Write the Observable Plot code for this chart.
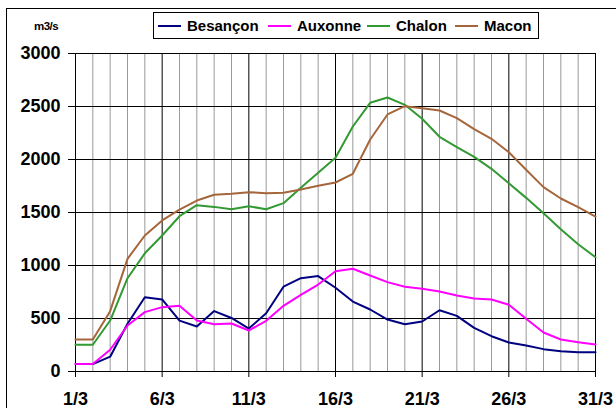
<!DOCTYPE html>
<html>
<head>
<meta charset="utf-8">
<script src="https://cdn.jsdelivr.net/npm/d3@7"></script>
<script src="https://cdn.jsdelivr.net/npm/@observablehq/plot@0.6"></script>
<style>
  html, body { margin: 0; padding: 0; background: #fff; }
  #wrap { position: relative; width: 616px; height: 408px; overflow: hidden; font-family: "Liberation Sans", Arial, sans-serif; font-weight: bold; }
  #frame { position: absolute; left: 6px; top: 8px; width: 640px; height: 440px; border: 1px solid #000; box-sizing: border-box; pointer-events: none; }
  #unit { position: absolute; left: 34px; top: 20px; font-size: 11.5px; letter-spacing: -0.5px; }
  #legend { position: absolute; left: 153px; top: 12px; width: 386px; height: 27px; border: 1px solid #000; box-sizing: border-box; font-size: 15px; }
  .item { display: flex; align-items: center; position: absolute; top: 4px; line-height: 17px; }
  .swatch { display: inline-block; width: 23px; height: 2px; margin-right: 6px; }
  #chart { position: absolute; left: 0; top: 0; }
</style>
</head>
<body>
<div id="wrap">
  <div id="chart"></div>
  <div id="frame"></div>
  <div id="unit">m3/s</div>
  <div id="legend"></div>
</div>
<script>
const days = d3.range(1, 32);
const seriesNames = ["Besançon", "Auxonne", "Chalon", "Macon"];
const seriesColors = ["#000080", "#ff00ff", "#339933", "#a5663b"];
const besancon = [70,70,140,450,700,680,480,425,570,505,405,550,800,880,900,790,660,585,490,445,472,578,525,412,333,274,245,211,192,182,182];
const auxonne  = [70,70,205,434,560,607,620,481,446,453,387,478,620,722,820,946,969,906,843,799,780,755,717,689,679,629,497,368,302,277,255];
const chalon   = [252,252,481,880,1115,1283,1465,1569,1553,1531,1559,1531,1588,1734,1875,2016,2311,2535,2585,2516,2384,2214,2116,2025,1912,1776,1638,1493,1342,1201,1078];
const macon    = [302,302,569,1063,1283,1425,1528,1613,1667,1676,1692,1682,1686,1717,1752,1783,1865,2189,2425,2503,2484,2462,2390,2286,2195,2069,1903,1739,1632,1550,1462];
const yTicks = [0, 500, 1000, 1500, 2000, 2500, 3000];
const majorDays = [1, 6, 11, 16, 21, 26, 31];
const xTickLabels = ["1/3", "6/3", "11/3", "16/3", "21/3", "26/3", "31/3"];

const allSeries = [besancon, auxonne, chalon, macon];
const table = allSeries.flatMap((vals, i) => vals.map((v, j) => ({series: seriesNames[i], day: days[j], value: v})));
const minorDays = days.filter(d => !majorDays.includes(d));

const chart = Plot.plot({
  width: 616,
  height: 408,
  marginLeft: 75,
  marginRight: 21,
  marginTop: 53,
  marginBottom: 37,
  style: {fontFamily: "'Liberation Sans', Arial, sans-serif", fontWeight: "bold", fontSize: "18px", background: "transparent", color: "#000"},
  x: {domain: [1, 31]},
  y: {domain: [0, 3000]},
  color: {domain: seriesNames, range: seriesColors},
  marks: [
    Plot.ruleX(minorDays, {stroke: "#999", strokeWidth: 1}),
    Plot.ruleX(majorDays, {stroke: "#000", strokeWidth: 1}),
    Plot.ruleY(yTicks, {stroke: "#000", strokeWidth: 1}),
    Plot.axisY({ticks: yTicks, tickFormat: d3.format("d"), tickSize: 7, tickPadding: 8, fontSize: 18, fontWeight: "bold", label: null}),
    Plot.axisX({ticks: majorDays, tickFormat: (d) => xTickLabels[majorDays.indexOf(d)], tickSize: 6, tickPadding: 15, fontSize: 18, fontWeight: "bold", label: null}),
    Plot.line(table, {x: "day", y: "value", z: "series", stroke: "series", strokeWidth: 2})
  ]
});
document.getElementById("chart").appendChild(chart);

const legend = document.getElementById("legend");
const lefts = [4, 114, 213, 301];
seriesNames.forEach((name, i) => {
  const it = document.createElement("div");
  it.className = "item";
  it.style.left = lefts[i] + "px";
  const sw = document.createElement("span");
  sw.className = "swatch";
  sw.style.background = seriesColors[i];
  it.appendChild(sw);
  it.appendChild(document.createTextNode(name));
  legend.appendChild(it);
});
</script>
</body>
</html>
